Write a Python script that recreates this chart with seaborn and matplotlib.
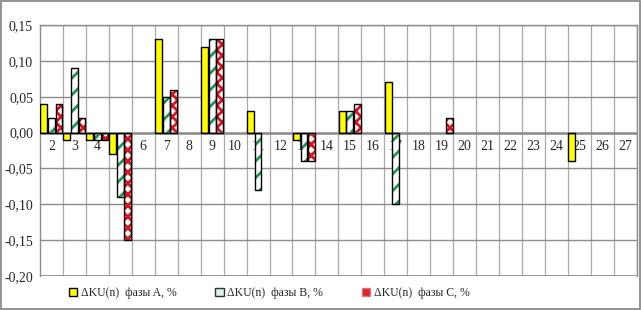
"""Harmonic voltage deviation by phase, grouped bar chart."""

import matplotlib

matplotlib.use("Agg")
import matplotlib.pyplot as plt
import pandas as pd
import seaborn as sns
from matplotlib.patches import Patch, Rectangle
from matplotlib.ticker import FixedLocator, FuncFormatter, MultipleLocator

harmonics = [str(n) for n in range(2, 28)]
phase_a = [0.04, -0.01, -0.01, -0.03, 0, 0.13, 0, 0.12, 0, 0.03, 0, -0.01, 0,
           0.03, 0, 0.07, 0, 0, 0, 0, 0, 0, 0, -0.04, 0, 0]
phase_b = [0.02, 0.09, -0.01, -0.09, 0, 0.05, 0, 0.13, 0, -0.08, 0, -0.04, 0,
           0.03, 0, -0.10, 0, 0, 0, 0, 0, 0, 0, 0, 0, 0]
phase_c = [0.04, 0.02, -0.01, -0.15, 0, 0.06, 0, 0.13, 0, 0, 0, -0.04, 0,
           0.04, 0, 0, 0, 0.02, 0, 0, 0, 0, 0, 0, 0, 0]
series_names = [
    "\u0394KU(n)  фазы A, %",
    "\u0394KU(n)  фазы B, %",
    "\u0394KU(n)  фазы C, %",
]

sns.set_theme(style="white")
plt.rcParams["font.family"] = ["Liberation Serif", "DejaVu Serif"]
plt.rcParams["hatch.linewidth"] = 2.0

df = pd.DataFrame({
    "n": harmonics * 3,
    "value": phase_a + phase_b + phase_c,
    "phase": [series_names[0]] * 26 + [series_names[1]] * 26 + [series_names[2]] * 26,
})

fig = plt.figure(figsize=(6.41, 3.10), dpi=100)
ax = fig.add_axes([0.0624, 0.11, 0.931, 0.809])

sns.barplot(data=df, x="n", y="value", hue="phase", order=harmonics,
            hue_order=series_names, errorbar=None, width=0.99, gap=0.1,
            legend=False, ax=ax)

# fill, hatch, hatch colour
styles = [
    ("#ffff00", None, "#ffff00"),
    ("#ffffff", "//", "#1a9a50"),
    ("#ffffff", "xxx", "#e0101e"),
]
for container, (face, hatch, hcol) in zip(ax.containers, styles):
    for bar in container:
        if abs(bar.get_height()) < 1e-9:
            bar.set_visible(False)
            continue
        bar.set_facecolor(face)
        bar.set_edgecolor(hcol)
        bar.set_linewidth(0)
        bar.set_hatch(hatch)
        ax.add_patch(Rectangle(bar.get_xy(), bar.get_width(), bar.get_height(),
                               fill=False, edgecolor="black", linewidth=1.0, zorder=3))

ax.set_ylim(-0.20, 0.15)
ax.set_xlim(-0.5, len(harmonics) - 0.5)
ax.yaxis.set_major_locator(MultipleLocator(0.05))
ax.yaxis.set_major_formatter(FuncFormatter(lambda v, _: f"{v:.2f}".replace(".", ",")))
ax.xaxis.set_minor_locator(FixedLocator([i + 0.5 for i in range(len(harmonics))]))
ax.grid(axis="y", which="major", color="#8c8c8c", linewidth=1.0)
ax.grid(axis="x", which="minor", color="#a8a8a8", linewidth=0.9)
ax.set_axisbelow(True)
ax.axhline(0, color="#8c8c8c", linewidth=1.8, zorder=1)

ax.spines["bottom"].set_position(("data", 0))
ax.spines["bottom"].set_visible(False)
for side in ("left", "right", "top"):
    ax.spines[side].set_color("#8c8c8c")
    ax.spines[side].set_linewidth(1.0)
ax.axhline(-0.20, color="#8c8c8c", linewidth=1.2, zorder=1)

ax.tick_params(axis="x", which="both", length=0, pad=5, labelsize=10)
ax.tick_params(axis="y", length=0, pad=5, labelsize=10)
ax.set_xlabel("")
ax.set_ylabel("")

handles = [
    Patch(facecolor="#ffff00", edgecolor="black", linewidth=1.0),
    Patch(facecolor="#d6f2ea", edgecolor="#303030", linewidth=1.0),
    Patch(facecolor="#e8202a", edgecolor="#c08080", linewidth=1.0),
]
fig.legend(handles, series_names, loc="center", bbox_to_anchor=(0.42, 0.055),
           ncol=3, frameon=False, fontsize=8.5, handlelength=0.7,
           handleheight=0.7, handletextpad=0.3, columnspacing=3.3)

fig.patches.append(Rectangle((0.001, 0.002), 0.997, 0.995, transform=fig.transFigure,
                             fill=False, edgecolor="#808080", linewidth=1.2))

fig.savefig("out.png", dpi=100)
